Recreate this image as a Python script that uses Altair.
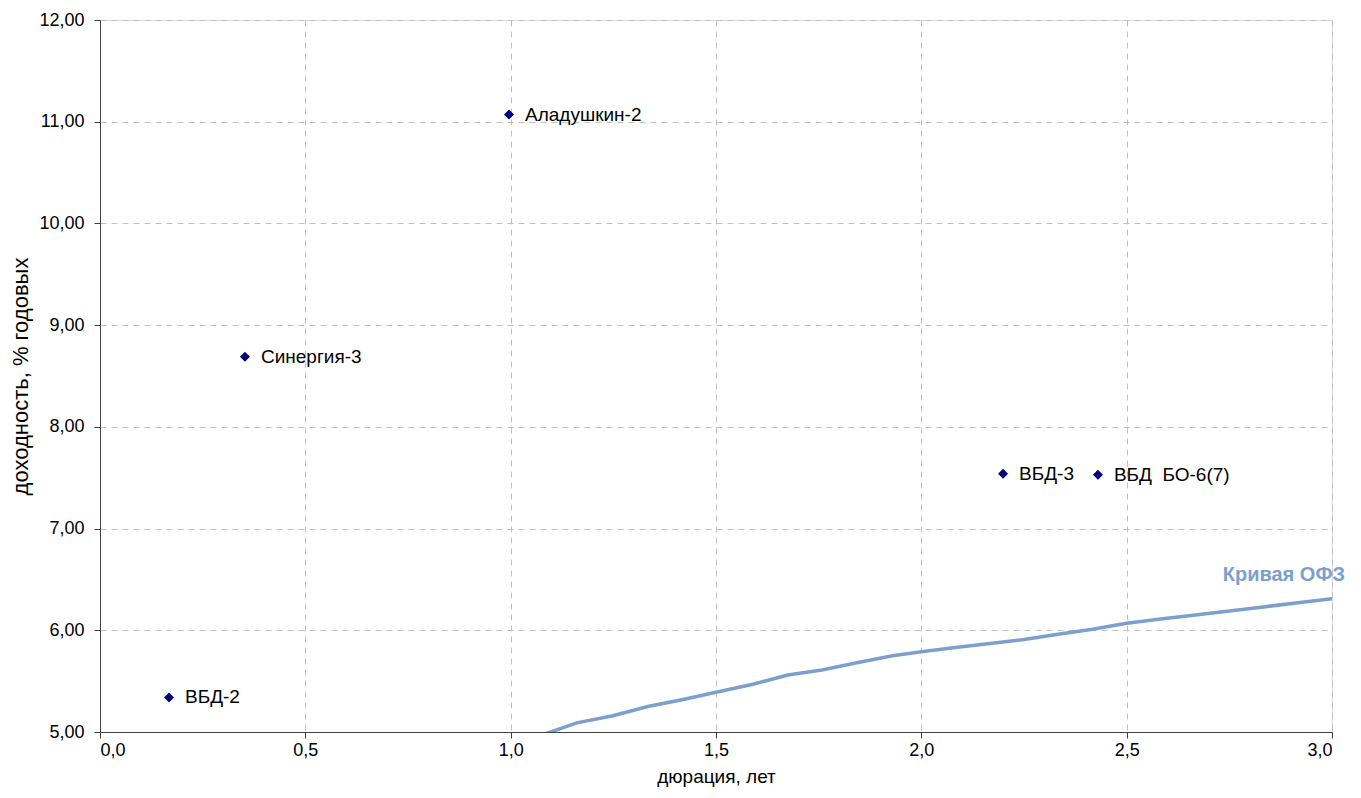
import altair as alt
import pandas as pd

# Bonds (duration, yield)
bond_names = ["ВБД-2", "Синергия-3", "Аладушкин-2", "ВБД-3", "ВБД\u00a0 БО-6(7)"]
bond_dur = [0.168, 0.353, 0.996, 2.199, 2.430]
bond_yield = [5.34, 8.69, 11.07, 7.54, 7.53]

# OFZ curve
curve_x = [1.000, 1.083, 1.161, 1.249, 1.334, 1.420, 1.500, 1.590, 1.675, 1.758,
           1.843, 1.930, 2.000, 2.083, 2.167, 2.250, 2.333, 2.417, 2.500, 2.583,
           2.667, 2.750, 2.833, 2.917, 3.000]
curve_y = [4.88, 4.98, 5.09, 5.16, 5.25, 5.32, 5.39, 5.47, 5.56, 5.61,
           5.68, 5.75, 5.79, 5.83, 5.87, 5.91, 5.96, 6.01, 6.07, 6.11,
           6.15, 6.19, 6.23, 6.27, 6.31]
curve_label = ["Кривая ОФЗ"]
curve_label_x = [3.0]
curve_label_y = [6.54]

x_ticks = [0.0, 0.5, 1.0, 1.5, 2.0, 2.5, 3.0]
y_ticks = [5, 6, 7, 8, 9, 10, 11, 12]

FONT = "Liberation Sans, Arial, sans-serif"
CURVE_COLOR = "#7BA0CD"

bonds = pd.DataFrame({"name": bond_names, "x": bond_dur, "y": bond_yield})
curve = pd.DataFrame({"x": curve_x, "y": curve_y})
lab = pd.DataFrame({"t": curve_label, "x": curve_label_x, "y": curve_label_y})

xscale = alt.Scale(domain=[0, 3], nice=False, zero=False)
yscale = alt.Scale(domain=[5, 12], nice=False, zero=False)

xaxis = alt.Axis(values=x_ticks, labelExpr="replace(format(datum.value, '.1f'), '.', ',')",
                 title="дюрация, лет", grid=True, gridDash=[6, 5], gridColor="#c0c0c0",
                 domainColor="#404040", tickColor="#404040", tickSize=6,
                 labelFont=FONT, labelFontSize=18, labelColor="black", labelPadding=3,
                 titleFont=FONT, titleFontSize=19, titleFontWeight="normal", titleColor="black",
                 titlePadding=8)
yaxis = alt.Axis(values=y_ticks, labelExpr="replace(format(datum.value, '.2f'), '.', ',')",
                 title="доходность, % годовых", grid=True, gridDash=[6, 5], gridColor="#c0c0c0",
                 domainColor="#404040", tickColor="#404040", tickSize=6,
                 labelFont=FONT, labelFontSize=18, labelColor="black", labelPadding=10,
                 titleFont=FONT, titleFontSize=22, titleFontWeight="normal", titleColor="black",
                 titlePadding=6)

line = alt.Chart(curve).mark_line(color=CURVE_COLOR, strokeWidth=3.5, clip=True).encode(
    x=alt.X("x:Q", scale=xscale, axis=xaxis),
    y=alt.Y("y:Q", scale=yscale, axis=yaxis),
)

pts = alt.Chart(bonds).mark_point(shape="diamond", filled=True, color="#000080", size=100, opacity=1).encode(
    x=alt.X("x:Q", scale=xscale),
    y=alt.Y("y:Q", scale=yscale),
)

txt = alt.Chart(bonds).mark_text(align="left", baseline="middle", dx=16, font=FONT,
                                 fontSize=19, color="black").encode(
    x=alt.X("x:Q", scale=xscale),
    y=alt.Y("y:Q", scale=yscale),
    text="name:N",
)

clab = alt.Chart(lab).mark_text(align="right", baseline="middle", dx=13, font=FONT,
                                fontSize=20, fontWeight="bold", color=CURVE_COLOR).encode(
    x=alt.X("x:Q", scale=xscale),
    y=alt.Y("y:Q", scale=yscale),
    text="t:N",
)

chart = alt.layer(line, pts, txt, clab).properties(
    width=1232, height=712,
    autosize=alt.AutoSizeParams(type="none"),
    padding={"left": 92, "top": 12, "right": 21, "bottom": 58},
).configure_view(stroke=None).configure(background="white")

chart.save("out.html", embed_options={"renderer": "svg", "actions": False})
